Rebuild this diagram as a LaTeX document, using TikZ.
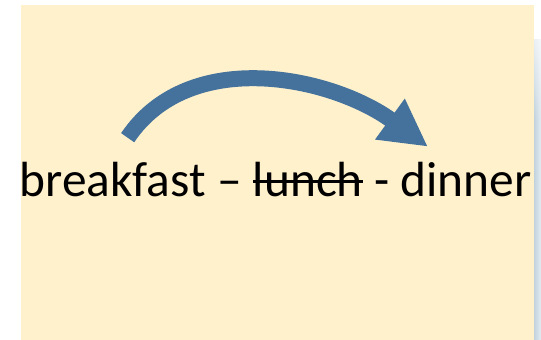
\documentclass[tikz,border=0pt]{standalone}
\usepackage{fontspec}
\setmainfont{Carlito}
\usepackage{xcolor}
\usetikzlibrary{positioning,arrows.meta,fadings}

\definecolor{cream}{HTML}{FFF1CC}
\definecolor{arrowblue}{HTML}{44729D}
\definecolor{shadowblue}{HTML}{C2D3DE}

\tikzset{
        word/.style={inner sep=0pt, outer sep=0pt, font=\fontsize{49.4}{58}\selectfont},
        bigarrow/.style={arrowblue, line width=16pt, -{Triangle[length=47pt,width=47pt]}}
}

\begin{document}
\begin{tikzpicture}[x=1pt, y=1pt, node distance=11.2pt]
        \useasboundingbox (0,0) rectangle (541,340);

        % Background
        \fill[cream] (21,0) rectangle (534,335);
        \shade[left color=shadowblue, right color=shadowblue!45] (534,0) rectangle (541,300);
        \fill[white, path fading=south] (534,220) rectangle (541,340);

        % Words
        \node[word, anchor=base west] (brk) at (19.5,143) {breakfast};
        \node[word, base right=of brk] (dsh) {--};
        \node[word, base right=of dsh] (lun) {lunch};
        \node[word, base right=of lun] (hyp) {-};
        \node[word, base right=of hyp] (din) {dinner};

        % Strike through lunch
        \draw[line width=2.4pt] ([yshift=15.5pt]lun.base west) -- ([yshift=15.5pt]lun.base east);

        % Arrow
        \draw[bigarrow] ([xshift=15pt,yshift=25pt]brk.north)
                .. controls +(56:110) and +(144:120) .. ([xshift=-38pt,yshift=16pt]din.north);
\end{tikzpicture}
\end{document}
